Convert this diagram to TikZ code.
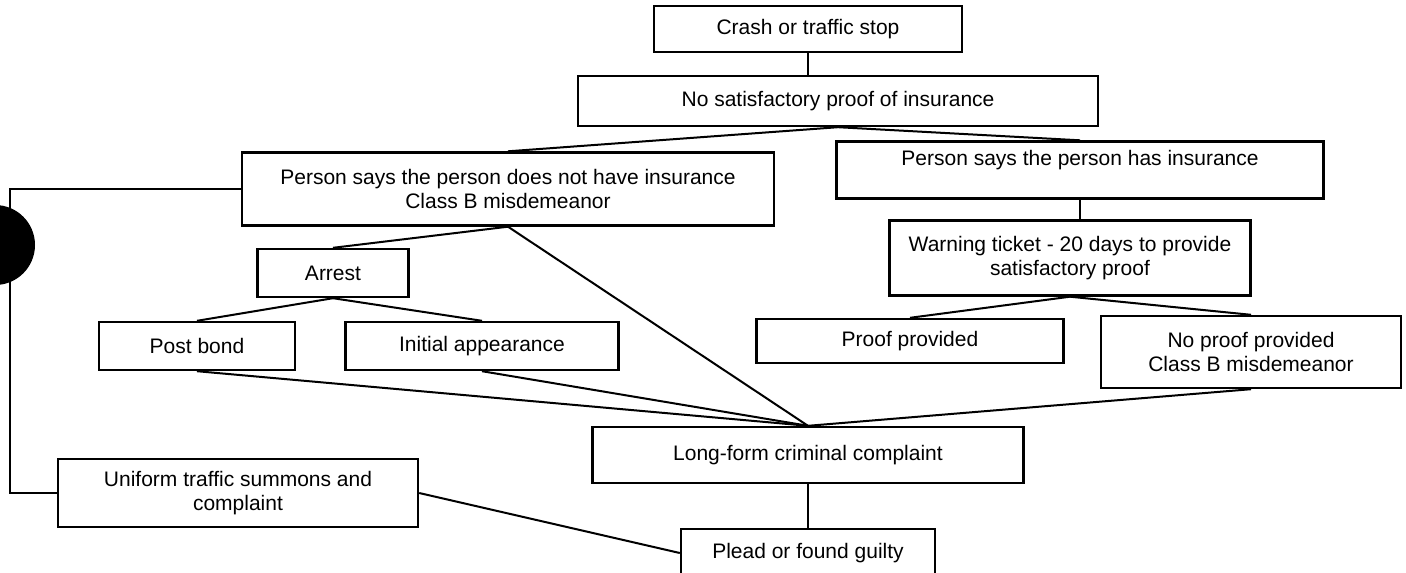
\documentclass[tikz,border=0pt]{standalone}
\usepackage{fontspec}
\setmainfont{Liberation Sans}
\begin{document}
\begin{tikzpicture}[x=1pt, y=-1pt,
    box/.style={draw, line width=2.4pt, align=center, inner sep=0pt,
        font=\fontsize{21}{24}\selectfont},
    link/.style={line width=2pt}]
% Page size of the chart
\useasboundingbox (0,0) rectangle (1406,573);

% Boxes, top to bottom
\node[box, minimum width=308, minimum height=46] (crash) at (808,29) {Crash or traffic stop};
\node[box, minimum width=520, minimum height=50] (nosat) at (838,101) {No satisfactory proof of insurance};
\node[box, minimum width=532, minimum height=73] (nohave) at (508,189) {Person says the person does not have insurance\\Class B misdemeanor};
\node[box, minimum width=487, minimum height=57] (have) at (1080,170) {Person says the person has insurance\\\mbox{}};
\node[box, minimum width=361, minimum height=75] (warning) at (1070,258) {Warning ticket - 20 days to provide\\satisfactory proof};
\node[box, minimum width=151, minimum height=48] (arrest) at (333,273) {Arrest};
\node[box, minimum width=196, minimum height=48] (postbond) at (197,346) {Post bond};
\node[box, minimum width=273, minimum height=48] (initial) at (482,346) {Initial appearance};
\node[box, minimum width=307, minimum height=44] (proof) at (910,341) {Proof provided};
\node[box, minimum width=300, minimum height=72] (noproof) at (1251,352) {No proof provided\\Class B misdemeanor};
\node[box, minimum width=431, minimum height=56] (longform) at (808,455) {Long-form criminal complaint};
\node[box, minimum width=360, minimum height=68] (uniform) at (238,493) {Uniform traffic summons and\\complaint};
\node[box, minimum width=254, minimum height=48] (plead) at (808,553) {Plead or found guilty};

% Connectors
\draw[link] (crash.south) -- (crash.south |- nosat.north);
\draw[link] (nohave.north) -- (nosat.south) -- (have.north);
\draw[link] (arrest.north) -- (nohave.south) -- (longform.north);
\draw[link] (postbond.north) -- (arrest.south) -- (initial.north);
\draw[link] (postbond.south) -- (longform.north);
\draw[link] (initial.south) -- (longform.north);
\draw[link] (have.south) -- (have.south |- warning.north);
\draw[link] (proof.north) -- (warning.south) -- (noproof.north);
\draw[link] (noproof.south) -- (longform.north);
\draw[link] (longform.south) -- (plead.north);
\draw[link] (uniform.east) -- (plead.west);

% Bracket on the left
\coordinate (bend) at (10,189);
\draw[link] (nohave.west) -- (bend) |- (uniform.west);

% Punch hole
\fill (-5,245) circle[radius=40];
\end{tikzpicture}
\end{document}
